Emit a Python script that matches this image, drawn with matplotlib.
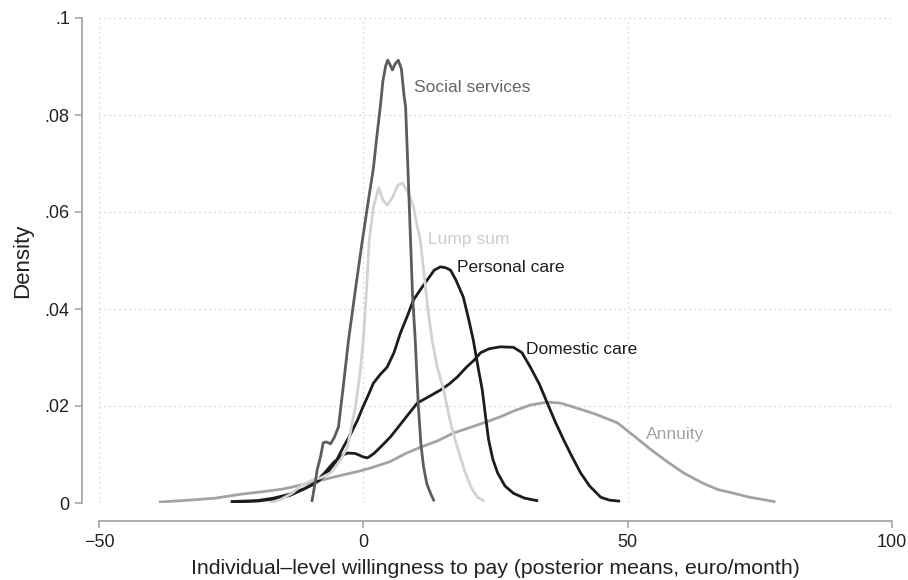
import matplotlib
matplotlib.use("Agg")
import matplotlib.pyplot as plt

plt.rcParams['font.family'] = ['Liberation Sans', 'DejaVu Sans']

# Kernel density estimates of posterior mean WTP (euro/month)
social_x = [-9.7, -9.3, -8.7, -8.1, -7.6, -7.0, -6.2, -5.5, -4.7, -3.8, -2.8, -1.5, -0.2, 0.9, 1.9,
            2.6, 3.2, 3.7, 4.2, 4.6, 5.0, 5.5, 6.0, 6.6, 7.2, 7.7, 8.0, 8.4, 8.9, 9.3, 9.8, 10.4,
            10.9, 11.4, 12.0, 12.7, 13.3]
social_y = [0.0005, 0.003, 0.007, 0.0095, 0.0124, 0.0126, 0.0122, 0.0135, 0.0157, 0.024, 0.0336,
            0.044, 0.054, 0.062, 0.069, 0.076, 0.0816, 0.087, 0.090, 0.0913, 0.0905, 0.0893,
            0.0905, 0.0913, 0.0895, 0.084, 0.0816, 0.070, 0.055, 0.043, 0.034, 0.020, 0.012,
            0.0074, 0.004, 0.002, 0.0006]

lump_x = [-17.6, -15.5, -13.5, -11.5, -9.5, -8.0, -6.2, -4.5, -3.0, -1.5, -0.6, 0.0, 0.6, 1.1,
          1.9, 2.9, 3.7, 4.5, 5.5, 6.5, 7.4, 8.5, 9.5, 10.2, 10.8, 11.5, 12.2, 13.0, 14.0, 15.2,
          16.2, 17.0, 18.2, 19.3, 20.5, 21.6, 22.7]
lump_y = [0.0, 0.0008, 0.002, 0.0038, 0.0048, 0.0052, 0.0062, 0.0085, 0.0115, 0.0198, 0.027,
          0.0336, 0.044, 0.054, 0.061, 0.065, 0.0625, 0.0614, 0.063, 0.0655, 0.066, 0.064, 0.061,
          0.057, 0.054, 0.047, 0.040, 0.0336, 0.028, 0.0233, 0.018, 0.0144, 0.010, 0.0062,
          0.003, 0.0012, 0.0005]

personal_x = [-24.8, -20, -17, -14, -11, -8.5, -6.8, -5.2, -3.8, -2.5, -1.1, 0.0, 0.8, 1.9, 3.2,
              4.5, 5.8, 7.0, 8.3, 9.5, 10.8, 12.1, 13.4, 14.6, 15.6, 16.5, 17.5, 18.9, 19.9, 20.8,
              21.7, 22.5, 23.1, 23.7, 24.5, 25.4, 26.8, 28.4, 30.5, 32.8]
personal_y = [0.0002, 0.0004, 0.0008, 0.0015, 0.003, 0.0045, 0.0062, 0.0085, 0.0115, 0.014,
              0.0171, 0.020, 0.0219, 0.0247, 0.0265, 0.028, 0.031, 0.035, 0.0385, 0.0419, 0.044,
              0.046, 0.048, 0.0487, 0.0485, 0.048, 0.046, 0.0425, 0.038, 0.0336, 0.028, 0.0233,
              0.018, 0.013, 0.009, 0.0062, 0.0035, 0.002, 0.001, 0.0005]

domestic_x = [-24.8, -20, -17, -14, -11.5, -9.5, -7.5, -5.5, -4.0, -3.0, -1.5, 0.0, 0.8, 2.0,
              3.5, 5.1, 6.5, 8.3, 10.2, 12.5, 14.6, 16.2, 17.8, 19.5, 21.0, 22.2, 23.8, 25.9,
              28.4, 30.0, 31.6, 33.3, 34.8, 36.4, 37.9, 39.5, 41.1, 42.8, 44.9, 46.5, 48.3]
domestic_y = [0.0003, 0.0005, 0.001, 0.0018, 0.0028, 0.0038, 0.006, 0.0085, 0.0098, 0.0103,
              0.0102, 0.0095, 0.0093, 0.0102, 0.0118, 0.0136, 0.0155, 0.018, 0.0206, 0.022,
              0.0233, 0.0245, 0.026, 0.028, 0.0295, 0.031, 0.0318, 0.0322, 0.0321, 0.031, 0.028,
              0.0245, 0.0206, 0.0165, 0.013, 0.0095, 0.0062, 0.0035, 0.0012, 0.0006, 0.0004]

annuity_x = [-38.4, -32.8, -28, -23.3, -18.5, -15.7, -13.8, -9.5, -5, -1, 1.3, 5, 8, 10.8, 14,
             17, 20, 23.5, 26, 28.5, 31.6, 34.8, 37.3, 40, 44, 48.1, 51, 54.4, 57.5, 60.6, 64,
             67, 70.1, 73, 77.7]
annuity_y = [0.0002, 0.0006, 0.001, 0.0018, 0.0024, 0.0028, 0.0032, 0.0043, 0.0055, 0.0065,
             0.0072, 0.0085, 0.0102, 0.0115, 0.0128, 0.0144, 0.0155, 0.0168, 0.0178, 0.019,
             0.0202, 0.0208, 0.0206, 0.0197, 0.0183, 0.0165, 0.014, 0.011, 0.0085, 0.0062,
             0.0042, 0.0028, 0.002, 0.0012, 0.0003]

x_ticks = [-50, 0, 50, 100]
x_tick_labels = ["\u221250", "0", "50", "100"]
y_ticks = [0, 0.02, 0.04, 0.06, 0.08, 0.1]
y_tick_labels = ["0", ".02", ".04", ".06", ".08", ".1"]

fig = plt.figure(figsize=(9.08, 5.80), dpi=100)
ax = fig.add_axes([99 / 908, 1 - 503 / 580, 793 / 908, 485 / 580])

lw = 2.0
ax.plot(annuity_x, annuity_y, color="#a3a3a3", lw=lw, solid_joinstyle="round")
ax.plot(domestic_x, domestic_y, color="#1c1c1c", lw=lw, solid_joinstyle="round")
ax.plot(personal_x, personal_y, color="#1c1c1c", lw=lw, solid_joinstyle="round")
ax.plot(lump_x, lump_y, color="#d2d2d2", lw=lw, solid_joinstyle="round")
ax.plot(social_x, social_y, color="#5c5c5c", lw=lw, solid_joinstyle="round")

lab_fs = 12.5
ax.text(9.5, 0.0856, "Social services", color="#666666", fontsize=lab_fs, va="center", ha="left")
ax.text(12.3, 0.0544, "Lump sum", color="#cccccc", fontsize=lab_fs, va="center", ha="left")
ax.text(17.8, 0.0486, "Personal care", color="#1c1c1c", fontsize=lab_fs, va="center", ha="left")
ax.text(30.7, 0.0316, "Domestic care", color="#1c1c1c", fontsize=lab_fs, va="center", ha="left")
ax.text(53.4, 0.0142, "Annuity", color="#a3a3a3", fontsize=lab_fs, va="center", ha="left")

ax.set_xlim(-50, 100)
ax.set_ylim(0, 0.1)
ax.set_xticks(x_ticks)
ax.set_xticklabels(x_tick_labels)
ax.set_yticks(y_ticks)
ax.set_yticklabels(y_tick_labels)

ax.grid(True, linestyle=(0, (1, 3)), color="#c8c8c8", lw=0.9)
ax.set_axisbelow(True)

for s in ["top", "right"]:
    ax.spines[s].set_visible(False)
for s in ["left", "bottom"]:
    ax.spines[s].set_color("#a8a8a8")
    ax.spines[s].set_linewidth(1.3)
ax.spines["left"].set_position(("outward", 12))
ax.spines["bottom"].set_position(("outward", 13))

ax.tick_params(axis="both", direction="out", length=5, width=1.2, color="#a8a8a8",
               labelsize=13, labelcolor="#222222", pad=4)

ax.set_xlabel("Individual\u2013level willingness to pay (posterior means, euro/month)",
              fontsize=15.3, color="#222222", labelpad=6)
ax.set_ylabel("Density", fontsize=16, color="#222222", labelpad=8)

fig.savefig("out.png", dpi=100, facecolor="white")
